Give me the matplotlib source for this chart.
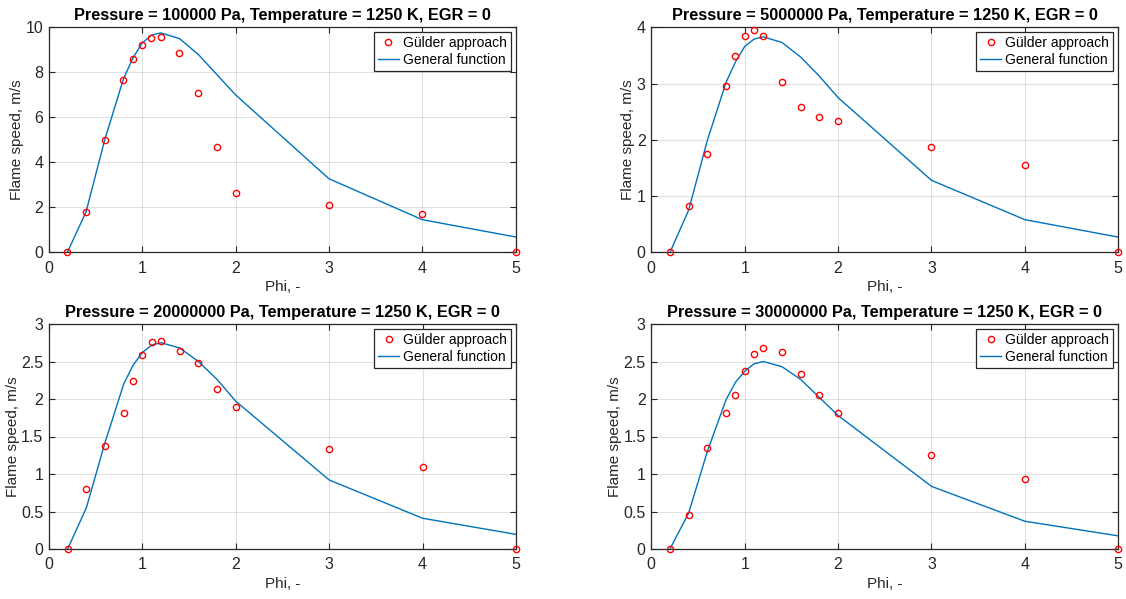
import matplotlib
matplotlib.use("Agg")
import matplotlib.pyplot as plt

plt.rcParams['font.family'] = ['Liberation Sans', 'DejaVu Sans']

phi = [0.2, 0.4, 0.6, 0.8, 0.9, 1.0, 1.1, 1.2, 1.4, 1.6, 1.8, 2.0, 3.0, 4.0, 5.0]

pressures = [100000, 5000000, 20000000, 30000000]

gulder_1 = [0, 1.80, 5.00, 7.65, 8.58, 9.20, 9.52, 9.56, 8.85, 7.08, 4.67, 2.64, 2.08, 1.68, 0]
general_1 = [0, 1.80, 5.00, 7.70, 8.62, 9.30, 9.65, 9.75, 9.50, 8.80, 7.90, 7.00, 3.27, 1.45, 0.68]

gulder_2 = [0, 0.83, 1.755, 2.95, 3.49, 3.84, 3.96, 3.85, 3.025, 2.58, 2.41, 2.33, 1.87, 1.55, 0]
general_2 = [0, 0.75, 1.99, 3.02, 3.38, 3.66, 3.79, 3.83, 3.73, 3.47, 3.13, 2.75, 1.28, 0.58, 0.27]

gulder_3 = [0, 0.80, 1.38, 1.81, 2.24, 2.59, 2.76, 2.78, 2.645, 2.48, 2.13, 1.90, 1.33, 1.10, 0]
general_3 = [0, 0.55, 1.42, 2.20, 2.45, 2.62, 2.72, 2.75, 2.68, 2.50, 2.26, 1.97, 0.92, 0.41, 0.195]

gulder_4 = [0, 0.46, 1.35, 1.81, 2.06, 2.38, 2.60, 2.68, 2.63, 2.34, 2.05, 1.82, 1.25, 0.93, 0]
general_4 = [0, 0.48, 1.30, 1.99, 2.22, 2.37, 2.47, 2.50, 2.43, 2.26, 2.02, 1.78, 0.835, 0.37, 0.175]

gulder = [gulder_1, gulder_2, gulder_3, gulder_4]
general = [general_1, general_2, general_3, general_4]

y_limits = [(0, 10), (0, 4), (0, 3), (0, 3)]
y_ticks = [[0, 2, 4, 6, 8, 10], [0, 1, 2, 3, 4],
           [0, 0.5, 1, 1.5, 2, 2.5, 3], [0, 0.5, 1, 1.5, 2, 2.5, 3]]
x_ticks = [0, 1, 2, 3, 4, 5]

W, H = 1126, 599
fig = plt.figure(figsize=(W / 100, H / 100), dpi=100)

# axes rectangles in pixels: left, top, right, bottom
rects = [(48.7, 27.3, 515.7, 252.3), (651.3, 27.3, 1118.3, 252.3),
         (49.0, 324.0, 516.0, 549.0), (651.3, 324.0, 1118.3, 549.0)]

axis_col = '#262626'
line_col = '#0072BD'

for i in range(4):
    l, t, r, b = rects[i]
    ax = fig.add_axes([l / W, 1 - b / H, (r - l) / W, (b - t) / H])
    ax.plot(phi, gulder[i], linestyle='none', marker='o', markersize=4.5,
            markerfacecolor='none', markeredgecolor='#FF0000', markeredgewidth=1.0,
            label='Gülder approach', clip_on=False, zorder=3)
    ax.plot(phi, general[i], color=line_col, linewidth=1.0,
            label='General function', zorder=2)
    ax.set_xlim(0, 5)
    ax.set_ylim(*y_limits[i])
    ax.set_xticks(x_ticks)
    ax.set_yticks(y_ticks[i])
    ax.set_xticklabels([f'{v:g}' for v in x_ticks])
    ax.set_yticklabels([f'{v:g}' for v in y_ticks[i]])
    ax.grid(True, color='#000000', alpha=0.12, linewidth=0.8)
    ax.set_axisbelow(True)
    ax.tick_params(direction='in', length=4, width=0.8, colors=axis_col,
                   labelsize=11.5, top=True, right=True)
    ax.tick_params(axis='x', pad=6)
    ax.tick_params(axis='y', pad=4)
    for s in ax.spines.values():
        s.set_color(axis_col)
        s.set_linewidth(0.9)
    ax.set_xlabel('Phi, -', fontsize=11, color=axis_col, labelpad=3)
    ax.set_ylabel('Flame speed, m/s', fontsize=11, color=axis_col, labelpad=1)
    ax.set_title(f'Pressure = {pressures[i]} Pa, Temperature = 1250 K, EGR = 0',
                 fontsize=11.8, fontweight='bold', color='black', pad=5)
    leg = ax.legend(loc='upper right', fontsize=10, frameon=True, fancybox=False,
                    borderpad=0.3, labelspacing=0.2, handlelength=1.5,
                    handletextpad=0.3, borderaxespad=0.35)
    leg.get_frame().set_edgecolor(axis_col)
    leg.get_frame().set_linewidth(0.9)
    leg.get_frame().set_alpha(1)

fig.savefig('out.png', dpi=100)
